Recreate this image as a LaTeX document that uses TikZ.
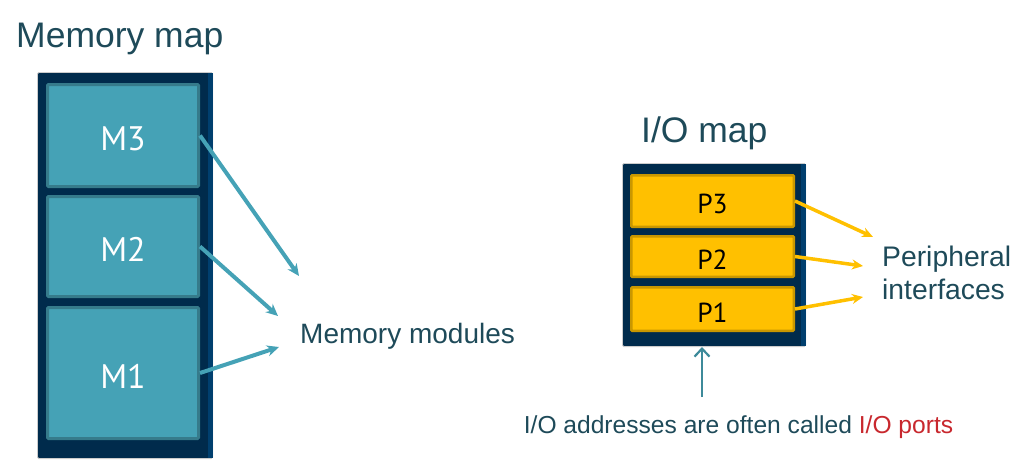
\documentclass[tikz,border=0pt]{standalone}
\usepackage{fontspec}
\setmainfont{Liberation Sans}
\newfontfamily\slotfont{PT Sans}
\usetikzlibrary{arrows.meta,positioning}

\definecolor{navy}{HTML}{002B4C}
\definecolor{stripblue}{HTML}{003F6E}
\definecolor{tealfill}{HTML}{45A2B6}
\definecolor{tealedge}{HTML}{367B8B}
\definecolor{gold}{HTML}{FFC000}
\definecolor{goldedge}{HTML}{C99700}
\definecolor{inktext}{HTML}{1E4A59}
\definecolor{portred}{HTML}{C8282E}
\definecolor{notearrow}{HTML}{3D8A9A}

\tikzset{
  bank/.style={fill=navy, draw=black!20, line width=0.8pt, rounded corners=1.5pt, inner sep=0pt},
  module/.style={fill=tealfill, draw=tealedge, line width=3pt, minimum width=151pt, inner sep=0pt,
    text=white, font=\slotfont\fontsize{34}{34}\selectfont, text height=30pt, rounded corners=1pt},
  port/.style={fill=gold, draw=goldedge, line width=2.5pt, minimum width=162.5pt, inner sep=0pt,
    text=black, font=\slotfont\fontsize{27.5}{27.5}\selectfont, text height=26pt, rounded corners=1pt},
  memarrow/.style={draw=tealfill, line width=4pt, -{Stealth[length=12pt,width=11pt]}},
  portarrow/.style={draw=gold, line width=3.5pt, -{Stealth[length=11pt,width=10pt]}},
  caption/.style={text=inktext, inner sep=0pt},
}

\begin{document}
\begin{tikzpicture}[x=1pt,y=-1pt]
  \useasboundingbox (0,0) rectangle (1024,472);

  %%%%% memory map %%%%%
  \node[caption, anchor=base west, font=\fontsize{35.5}{35.5}\selectfont] (memtitle) at (16,47) {Memory map};
  \node[bank, minimum width=175.2pt, minimum height=386.2pt] (membank) at (125,265.5) {};
  \fill[stripblue] ([xshift=-5pt,yshift=-1pt]membank.north east) rectangle ([yshift=1pt]membank.south east);

  \node[module, minimum height=102pt] (M3) at (123,135.5) {M3};
  \node[module, minimum height=100pt] (M2) at (123,246.5) {M2};
  \node[module, minimum height=131pt] (M1) at (123,373) {M1};

  \node[caption, anchor=base west, font=\fontsize{28}{28}\selectfont] (modules) at (300,343) {Memory modules};
  \coordinate (m3tip) at (299,276);
  \coordinate (m2tip) at (278,316);
  \coordinate (m1tip) at (279,347);
  \draw[memarrow] (M3.east) -- (m3tip);
  \draw[memarrow] (M2.east) -- (m2tip);
  \draw[memarrow] (M1.east) -- (m1tip);

  %%%%% I/O map %%%%%
  \node[caption, anchor=base west, font=\fontsize{35.5}{35.5}\selectfont] (iotitle) at (641,142) {I/O map};
  \node[bank, minimum width=183.2pt, minimum height=183.2pt] (iobank) at (714,255) {};
  \fill[stripblue] ([xshift=-5pt,yshift=-1pt]iobank.north east) rectangle ([yshift=1pt]iobank.south east);

  \node[port, minimum height=51.5pt] (P3) at (712.5,201) {P3};
  \node[port, minimum height=40.5pt] (P2) at (712.5,256.5) {P2};
  \node[port, minimum height=43.5pt] (P1) at (712.5,309) {P1};

  \node[caption, anchor=west, align=left, font=\fontsize{28.3}{33}\selectfont] (periph) at (882,273) {Peripheral\\interfaces};
  \coordinate (p3tip) at (873,237);
  \coordinate (p2tip) at (863,266);
  \coordinate (p1tip) at (863,297);
  \draw[portarrow] (P3.east) -- (p3tip);
  \draw[portarrow] (P2.east) -- (p2tip);
  \draw[portarrow] (P1.east) -- (p1tip);

  %%%%% note %%%%%
  \node[caption, anchor=base, font=\fontsize{24.6}{24.6}\selectfont] (note) at (738.5,433)
    {I/O addresses are often called \textcolor{portred}{I/O ports}};
  \coordinate (noteup) at (702,397);
  \draw[notearrow, line width=2.2pt, -{Straight Barb[length=8pt,width=15pt]}] (noteup) -- (noteup |- iobank.south);
\end{tikzpicture}
\end{document}
